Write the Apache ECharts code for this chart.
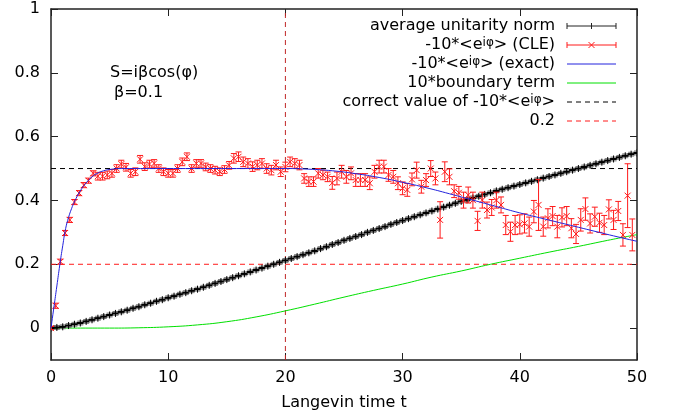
<!DOCTYPE html>
<html><head><meta charset="utf-8">
<script src="https://cdn.jsdelivr.net/npm/echarts@6/dist/echarts.min.js"></script>
<style>html,body{margin:0;padding:0;background:#fff}#c{width:678px;height:419px}</style>
</head><body><div id="c"></div>
<script>
// ---- data ----
const xTicks = [0, 10, 20, 30, 40, 50];
const yTicks = [0, 0.2, 0.4, 0.6, 0.8, 1];
const correctValue = 0.5;
const refLine = 0.2;
const markTime = 20;

// average unitarity norm, sampled every 0.5 in t
const normStep = 0.5;
const normVals = [0,0.002,0.004,0.008,0.012,0.016,0.021,0.026,0.031,0.036,0.041,0.046,0.051,0.056,0.062,0.067,0.073,0.078,0.084,0.089,
0.095,0.1,0.106,0.111,0.117,0.122,0.128,0.134,0.14,0.146,0.152,0.158,0.164,0.17,0.176,0.182,0.188,0.194,0.2,0.206,
0.212,0.218,0.224,0.23,0.236,0.242,0.249,0.255,0.262,0.268,0.275,0.281,0.287,0.293,0.3,0.306,0.312,0.318,0.325,0.331,
0.337,0.343,0.349,0.355,0.361,0.367,0.373,0.379,0.385,0.391,0.397,0.402,0.408,0.413,0.419,0.424,0.43,0.435,0.44,0.445,
0.45,0.455,0.46,0.465,0.47,0.475,0.48,0.485,0.49,0.495,0.5,0.505,0.51,0.515,0.52,0.525,0.53,0.535,0.54,0.545,0.549];
const normErr = 0.006;

// -10*<e^{i phi}> (CLE), sampled every 0.4 in t
const cleStep = 0.4;
const cleVals = [0,0.07,0.208,0.298,0.339,0.395,0.423,0.448,0.462,0.485,
0.476,0.476,0.48,0.485,0.5,0.514,0.504,0.485,0.49,0.529,
0.506,0.514,0.516,0.5,0.49,0.485,0.485,0.5,0.521,0.537,
0.5,0.516,0.516,0.505,0.5,0.495,0.49,0.497,0.51,0.532,
0.537,0.521,0.516,0.506,0.511,0.516,0.5,0.495,0.511,0.49,
0.505,0.521,0.516,0.511,0.469,0.459,0.459,0.485,0.48,0.474,
0.455,0.469,0.49,0.474,0.485,0.464,0.464,0.464,0.454,0.49,
0.506,0.506,0.48,0.474,0.454,0.438,0.433,0.466,0.495,0.443,
0.464,0.5,0.469,0.339,0.49,0.474,0.429,0.424,0.401,0.417,
0.401,0.336,0.401,0.37,0.378,0.401,0.386,0.323,0.302,0.323,
0.325,0.328,0.318,0.365,0.386,0.318,0.344,0.351,0.318,0.347,
0.351,0.313,0.295,0.339,0.373,0.328,0.349,0.33,0.323,0.372,
0.339,0.367,0.292,0.415,0.292];
const cleErr = [0.005,0.008,0.008,0.008,0.008,0.008,0.008,0.008,0.008,0.008,
0.012,0.012,0.012,0.012,0.012,0.012,0.012,0.012,0.012,0.012,
0.012,0.012,0.012,0.012,0.012,0.012,0.012,0.012,0.012,0.012,
0.012,0.012,0.012,0.012,0.012,0.012,0.012,0.012,0.012,0.015,
0.015,0.015,0.015,0.015,0.015,0.015,0.015,0.015,0.015,0.015,
0.015,0.015,0.015,0.015,0.015,0.015,0.015,0.015,0.015,0.015,
0.02,0.02,0.02,0.02,0.02,0.02,0.02,0.02,0.02,0.02,
0.02,0.02,0.02,0.02,0.02,0.02,0.02,0.02,0.025,0.02,
0.02,0.025,0.02,0.057,0.031,0.025,0.02,0.02,0.025,0.025,
0.025,0.03,0.025,0.025,0.025,0.025,0.025,0.03,0.03,0.03,
0.03,0.03,0.03,0.035,0.08,0.03,0.03,0.03,0.035,0.03,
0.03,0.03,0.03,0.035,0.035,0.03,0.03,0.03,0.03,0.03,
0.03,0.03,0.035,0.1,0.05];

// -10*<e^{i phi}> (exact)
const exactT = [0,0.25,0.5,0.75,1,1.25,1.5,1.75,2,2.5,3,3.5,4,4.5,5,6,10,15,20,22,24,26,28,30,32,34,36,38,40,42,44,46,48,50];
const exactV = [0,0.066,0.132,0.198,0.258,0.312,0.347,0.374,0.396,0.43,0.455,0.474,0.486,0.493,0.497,0.5,0.5,0.5,0.5,0.498,0.493,0.484,0.472,0.457,0.44,0.421,0.401,0.381,0.361,0.343,0.325,0.307,0.289,0.272];

// 10*boundary term
const bndT = [0,2.5,5,7.5,10,12.5,15,17.5,20,22.5,25,27.5,30,32.5,35,37.5,40,42.5,45,47.5,50];
const bndV = [0,0,0,0.001,0.004,0.01,0.02,0.035,0.054,0.075,0.097,0.118,0.138,0.16,0.179,0.2,0.219,0.238,0.256,0.275,0.293];

// ---- chart ----
const FONT = 'DejaVu Sans';
const X_MIN = 0, X_MAX = 50, Y_MIN = -0.1, Y_MAX = 1;
const normData = normVals.map((v, i) => [i * normStep, v, normErr]);
const cleData = cleVals.map((v, i) => [i * cleStep, v, cleErr[i]]);
const exactData = exactT.map((t, i) => [t, exactV[i]]);
const bndData = bndT.map((t, i) => [t, bndV[i]]);

function errRender(kind) {
  return function (params, api) {
    const t = api.value(0), v = api.value(1), e = api.value(2);
    const p = api.coord([t, v]);
    const lo = api.coord([t, v - e]);
    const hi = api.coord([t, v + e]);
    const ch = [];
    if (kind === 'cle') {
      const st = { stroke: '#ff1a1a', lineWidth: 1 };
      const cap = 3, s = 3;
      ch.push({ type: 'line', shape: { x1: p[0], y1: lo[1], x2: p[0], y2: hi[1] }, style: st });
      ch.push({ type: 'line', shape: { x1: p[0] - cap, y1: lo[1], x2: p[0] + cap, y2: lo[1] }, style: st });
      ch.push({ type: 'line', shape: { x1: p[0] - cap, y1: hi[1], x2: p[0] + cap, y2: hi[1] }, style: st });
      ch.push({ type: 'line', shape: { x1: p[0] - s, y1: p[1] - s, x2: p[0] + s, y2: p[1] + s }, style: st });
      ch.push({ type: 'line', shape: { x1: p[0] - s, y1: p[1] + s, x2: p[0] + s, y2: p[1] - s }, style: st });
    } else {
      const gst = { stroke: '#777', lineWidth: 1 };
      const cap = 3;
      ch.push({ type: 'line', shape: { x1: p[0], y1: lo[1], x2: p[0], y2: hi[1] }, style: gst });
      ch.push({ type: 'line', shape: { x1: p[0] - cap, y1: lo[1], x2: p[0] + cap, y2: lo[1] }, style: gst });
      ch.push({ type: 'line', shape: { x1: p[0] - cap, y1: hi[1], x2: p[0] + cap, y2: hi[1] }, style: gst });
      const s = 3.5;
      ch.push({ type: 'line', shape: { x1: p[0] - s, y1: p[1], x2: p[0] + s, y2: p[1] }, style: { stroke: '#000', lineWidth: 2.2 } });
      ch.push({ type: 'line', shape: { x1: p[0], y1: p[1] - s, x2: p[0], y2: p[1] + s }, style: { stroke: '#000', lineWidth: 1 } });
    }
    return { type: 'group', children: ch };
  };
}

const axisCommon = {
  type: 'value',
  min: X_MIN, max: X_MAX, interval: 10,
  axisLine: { show: true, onZero: false, lineStyle: { color: '#222', width: 1.5 } },
  axisTick: { show: true, inside: true, length: 7, lineStyle: { color: '#222', width: 1 } },
  splitLine: { show: false }
};
const yCommon = {
  type: 'value',
  min: Y_MIN, max: Y_MAX,
  axisLine: { show: true, onZero: false, lineStyle: { color: '#222', width: 1.5 } },
  axisTick: { show: true, inside: true, length: 7, customValues: yTicks, lineStyle: { color: '#222', width: 1 } },
  splitLine: { show: false }
};

const legendRows = [
  { text: 'average unitarity norm', kind: 'norm' },
  { text: '-10*<e{s|iφ}> (CLE)', kind: 'cle' },
  { text: '-10*<e{s|iφ}> (exact)', kind: 'exact' },
  { text: '10*boundary term', kind: 'bnd' },
  { text: 'correct value of -10*<e{s|iφ}>', kind: 'corr' },
  { text: '0.2', kind: 'ref' }
];
const legX = 555, sx1 = 567, sx2 = 616, legY0 = 26, legDy = 19;
const graphics = [];
legendRows.forEach((r, i) => {
  const y = legY0 + i * legDy;
  graphics.push({
    type: 'text', x: legX, y: y,
    style: { text: r.text, font: '16px ' + FONT, fill: '#000', align: 'right', verticalAlign: 'middle',
      rich: { s: { fontSize: 12, fontFamily: FONT, lineHeight: 12, verticalAlign: 'top', fill: '#000' } } }
  });
  const mid = (sx1 + sx2) / 2;
  if (r.kind === 'norm' || r.kind === 'cle') {
    const c = r.kind === 'cle' ? '#ff1a1a' : '#222';
    const st = { stroke: c, lineWidth: 1 };
    graphics.push({ type: 'line', shape: { x1: sx1, y1: y, x2: sx2, y2: y }, style: st });
    graphics.push({ type: 'line', shape: { x1: sx1, y1: y - 3, x2: sx1, y2: y + 3 }, style: st });
    graphics.push({ type: 'line', shape: { x1: sx2, y1: y - 3, x2: sx2, y2: y + 3 }, style: st });
    if (r.kind === 'cle') {
      graphics.push({ type: 'line', shape: { x1: mid - 3, y1: y - 3, x2: mid + 3, y2: y + 3 }, style: st });
      graphics.push({ type: 'line', shape: { x1: mid - 3, y1: y + 3, x2: mid + 3, y2: y - 3 }, style: st });
    } else {
      graphics.push({ type: 'line', shape: { x1: mid, y1: y - 3, x2: mid, y2: y + 3 }, style: st });
    }
  } else {
    const c = { exact: '#2222dd', bnd: '#00e000', corr: '#000', ref: '#ff1a1a' }[r.kind];
    const dashed = r.kind === 'corr' || r.kind === 'ref';
    graphics.push({ type: 'line', shape: { x1: sx1, y1: y, x2: sx2, y2: y },
      style: { stroke: c, lineWidth: 1, lineDash: dashed ? [5, 4] : null } });
  }
});
graphics.push({ type: 'text', x: 110, y: 73, style: { text: 'S=iβcos(φ)', font: '16px ' + FONT, fill: '#000', verticalAlign: 'middle' } });
graphics.push({ type: 'text', x: 114, y: 93, style: { text: 'β=0.1', font: '16px ' + FONT, fill: '#000', verticalAlign: 'middle' } });

function dashedSeries(name, data, color) {
  return { type: 'line', name: name, data: data, showSymbol: false, symbol: 'none', silent: true,
    lineStyle: { color: color, type: [5, 4], width: 1 }, itemStyle: { color: color }, z: 2 };
}

const chart = echarts.init(document.getElementById('c'), null, { renderer: 'canvas' });
chart.setOption({
  animation: false,
  backgroundColor: '#fff',
  textStyle: { fontFamily: FONT },
  grid: { left: 51, right: 41, top: 9, bottom: 59, containLabel: false },
  xAxis: [
    Object.assign({}, axisCommon, {
      position: 'bottom',
      axisLabel: { show: true, color: '#000', fontSize: 16, fontFamily: FONT, margin: 10 },
      name: 'Langevin time t', nameLocation: 'middle', nameGap: 35,
      nameTextStyle: { color: '#000', fontSize: 16, fontFamily: FONT }
    }),
    Object.assign({}, axisCommon, { position: 'top', axisLabel: { show: false } })
  ],
  yAxis: [
    Object.assign({}, yCommon, {
      position: 'left',
      axisLabel: { show: true, customValues: yTicks, color: '#000', fontSize: 16, fontFamily: FONT, margin: 11 }
    }),
    Object.assign({}, yCommon, { position: 'right', axisLabel: { show: false } })
  ],
  graphic: graphics,
  series: [
    dashedSeries('correct', [[X_MIN, correctValue], [X_MAX, correctValue]], '#000'),
    dashedSeries('ref', [[X_MIN, refLine], [X_MAX, refLine]], '#ff1a1a'),
    dashedSeries('mark', [[markTime, Y_MIN], [markTime, Y_MAX]], '#c02828'),
    {
      type: 'line', name: 'boundary', data: bndData, smooth: true, showSymbol: false,
      lineStyle: { color: '#00e000', width: 1 }, z: 3
    },
    {
      type: 'custom', name: 'norm', data: normData, renderItem: errRender('norm'), clip: true, z: 4
    },
    {
      type: 'custom', name: 'cle', data: cleData, renderItem: errRender('cle'), clip: true, z: 5
    },
    {
      type: 'line', name: 'exact', data: exactData, smooth: true, showSymbol: false,
      lineStyle: { color: '#2222dd', width: 1 }, z: 6
    }
  ]
});
</script>
</body></html>
